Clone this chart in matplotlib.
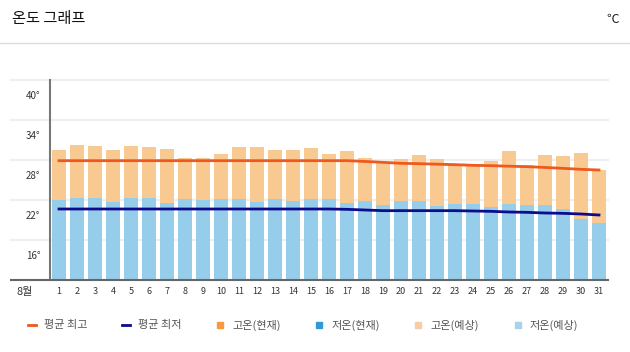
import matplotlib
matplotlib.use("Agg")
import matplotlib.pyplot as plt
from matplotlib.lines import Line2D
from matplotlib.transforms import ScaledTranslation
import numpy as np

plt.rcParams['font.family'] = ['Noto Sans CJK KR', 'DejaVu Sans']

days = list(range(1, 32))
high_forecast = [29.5, 30.25, 30.1, 29.5, 30.1, 29.95, 29.65, 28.3, 28.3, 28.9,
                 29.95, 29.95, 29.5, 29.5, 29.8, 28.9, 29.35, 28.3, 27.7, 28.15,
                 28.75, 28.15, 27.25, 27.1, 27.85, 29.35, 27.25, 28.75, 28.6, 29.05, 26.5]
low_forecast = [21.95, 22.3, 22.25, 21.65, 22.25, 22.25, 21.5, 22.15, 22.0, 22.15,
                22.15, 21.65, 22.15, 21.8, 22.15, 22.15, 21.6, 21.9, 21.3, 21.9,
                21.9, 21.15, 21.45, 21.45, 21.0, 21.45, 21.3, 21.3, 20.7, 19.2, 18.6]
avg_high = [27.9] * 17 + [27.78, 27.65, 27.5, 27.45, 27.37, 27.3, 27.2, 27.15,
                          27.07, 27.0, 26.88, 26.75, 26.6, 26.5]
avg_low = [20.65] * 16 + [20.6, 20.5, 20.4, 20.4, 20.4, 20.4, 20.4, 20.35, 20.3,
                          20.2, 20.15, 20.05, 20.0, 19.9, 19.75]
y_ticks = [16, 22, 28, 34, 40]
y_labels = ["16°", "22°", "28°", "34°", "40°"]
legend_labels = ["평균 최고", "평균 최저", "고온(현재)", "저온(현재)", "고온(예상)", "저온(예상)"]

W, H = 630, 352
fig = plt.figure(figsize=(W / 100, H / 100), dpi=100)
fig.patch.set_facecolor("white")

ax_left, ax_right, ax_top, ax_bottom = 50, 608, 80, 280
ax = fig.add_axes([ax_left / W, 1 - ax_bottom / H, (ax_right - ax_left) / W, (ax_bottom - ax_top) / H])

c_high_fc = "#F9C992"
c_low_fc = "#96CDEA"
c_high_cur = "#F7993C"
c_low_cur = "#2F9AD8"
c_avg_high = "#EE5A1E"
c_avg_low = "#0B0B8C"

ax.bar(days, high_forecast, width=0.78, color=c_high_fc, zorder=2)
ax.bar(days, low_forecast, width=0.78, color=c_low_fc, zorder=3)
ax.plot(days, avg_high, color=c_avg_high, lw=2, zorder=4)
ax.plot(days, avg_low, color=c_avg_low, lw=2, zorder=4)

ax.set_xlim(0.5, 31.5)
ax.set_ylim(10, 40)

ext = -(ax_left - 11) / (ax_right - ax_left)
for v in y_ticks:
    ax.axhline(v, xmin=ext, xmax=1, color="#EFEFEF", lw=1.5, zorder=0, clip_on=False)

for s in ["top", "right", "bottom"]:
    ax.spines[s].set_visible(False)
ax.spines["left"].set_color("#777777")
ax.spines["left"].set_linewidth(1.5)
ax.spines["left"].set_zorder(5)

fig.add_artist(Line2D([11 / W, ax_right / W], [1 - ax_bottom / H, 1 - ax_bottom / H],
                      color="#666666", lw=1.5))

ax.set_yticks(y_ticks)
ax.set_yticklabels(y_labels, fontsize=7, color="#333333")
ax.tick_params(axis="y", length=0, pad=7)
off = ScaledTranslation(0, -15 / 100, fig.dpi_scale_trans)
for lab in ax.get_yticklabels():
    lab.set_transform(lab.get_transform() + off)

ax.set_xticks(days)
ax.set_xticklabels([str(d) for d in days], fontsize=6.5, color="#333333")
ax.tick_params(axis="x", length=0, pad=5)

fig.text(25 / W, 1 - 292 / H, "8월", fontsize=8, ha="center", va="center", color="#333333")

fig.text(12 / W, 1 - 19 / H, "온도 그래프", fontsize=11, ha="left", va="center", color="#111111")
fig.text(613 / W, 1 - 19 / H, "℃", fontsize=9, ha="center", va="center", color="#222222")
fig.add_artist(Line2D([0, 1], [1 - 43 / H, 1 - 43 / H], color="#DDDDDD", lw=1))

handles = [
    Line2D([], [], color=c_avg_high, lw=2),
    Line2D([], [], color=c_avg_low, lw=2),
    Line2D([], [], color=c_high_cur, marker="s", ls="none", markersize=5),
    Line2D([], [], color=c_low_cur, marker="s", ls="none", markersize=5),
    Line2D([], [], color="#F6CDA6", marker="s", ls="none", markersize=5),
    Line2D([], [], color="#A6D3E9", marker="s", ls="none", markersize=5),
]
leg = fig.legend(handles, legend_labels, loc="center", bbox_to_anchor=(303 / W, 1 - 325 / H),
                 ncol=6, frameon=False, fontsize=8, handlelength=0.7, handletextpad=0.7,
                 columnspacing=3.15, labelcolor="#555555")

fig.savefig("out.png", dpi=100)
